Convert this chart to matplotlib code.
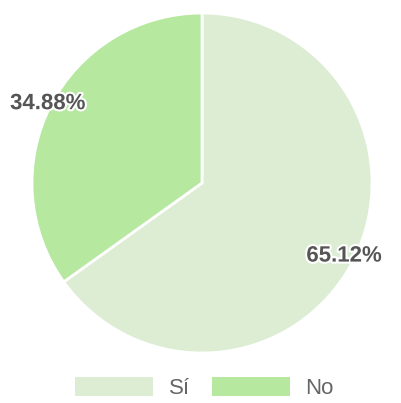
# pie of yes/no answers with percentage labels and a bottom legend
import matplotlib.pyplot as plt
import matplotlib.patheffects as pe
import numpy as np

labels = ['Sí', 'No']
values = [65.12, 34.88]
colors = ['#dcedd3', '#b6e8a0']
label_r = [0.94, 1.02]   # radial spot of each percentage text

fig = plt.figure(figsize=(4.01, 4.03), dpi=100)
ax = fig.add_axes([32 / 401, 50 / 403, 340 / 401, 340 / 403])

wedges, _ = ax.pie(values, colors=colors, startangle=90, counterclock=False,
                   wedgeprops=dict(edgecolor='white', linewidth=2))
ax.set_xlim(-1, 1)
ax.set_ylim(-1, 1)
ax.set_aspect('equal')
ax.axis('off')

for w, v, r in zip(wedges, values, label_r):
    mid = np.deg2rad((w.theta1 + w.theta2) / 2)
    ax.text(r * np.cos(mid), r * np.sin(mid), f'{v:.2f}%',
            ha='center', va='center', fontsize=16, fontweight='bold',
            color='#555555', family='Liberation Sans',
            path_effects=[pe.withStroke(linewidth=3, foreground='white')])

leg = fig.legend(wedges, labels, loc='lower center', ncol=2, frameon=False,
                 bbox_to_anchor=(0.51, -0.04), handlelength=3.5, handleheight=0.9,
                 handletextpad=0.7, columnspacing=1.0,
                 prop=dict(family='Liberation Sans', size=16))
for t in leg.get_texts():
    t.set_color('#666666')
for h in leg.legend_handles:
    h.set_edgecolor('none')

fig.savefig('out.png', dpi=100)
